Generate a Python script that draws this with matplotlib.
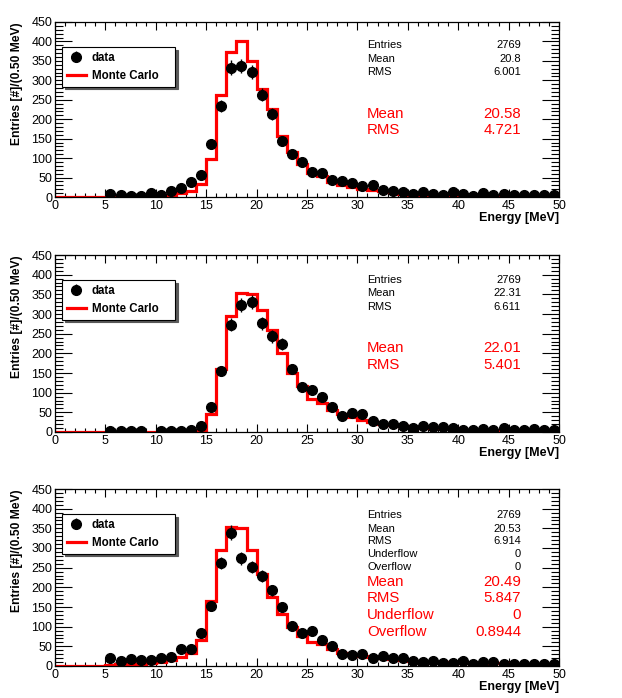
import matplotlib
matplotlib.use("Agg")
import matplotlib.pyplot as plt
import numpy as np

plt.rcParams["font.family"] = ["Liberation Sans", "DejaVu Sans"]

# bin edges (1 MeV) and data bin centres
edges = np.arange(0, 51, 1)
centres = np.arange(5.5, 50, 1.0)

# ---- panel 1 ----
data1 = [9, 6, 2, 3, 10, 6, 15, 22, 39, 56, 137, 234, 333, 336, 322, 263, 213, 143,
         110, 89, 64, 61, 44, 42, 36, 29, 31, 17, 16, 12, 8, 12, 8, 6, 12, 8, 3, 10,
         6, 8, 6, 6, 6, 6, 4]
mc1 = [0, 0, 0, 0, 0, 0, 0, 0, 0, 0, 2, 5, 10, 16, 34, 98, 263, 373, 402, 349,
       279, 226, 157, 117, 85, 61, 53, 38, 32, 27, 20, 17, 15, 12, 9, 6, 5, 5, 5, 5,
       3, 3, 3, 3, 3, 3, 3, 3, 3, 3]
stats1 = [("Entries", "2769"), ("Mean", "20.8"), ("RMS", "6.001")]
red1 = [("Mean", "20.58"), ("RMS", "4.721")]

# ---- panel 2 ----
data2 = [2, 2, 2, 2, np.nan, 2, 2, 2, 6, 15, 64, 156, 273, 323, 330, 276, 243, 223,
         160, 114, 107, 90, 64, 40, 49, 45, 28, 21, 20, 15, 9, 15, 13, 13, 10, 4, 4,
         7, 4, 9, 4, 4, 7, 6, 4]
mc2 = [0, 0, 0, 0, 0, 0, 0, 0, 0, 0, 0, 0, 0, 0, 6, 45, 159, 294, 353, 350,
       311, 260, 201, 150, 116, 83, 73, 57, 45, 37, 30, 26, 21, 17, 15, 13, 9, 9, 9, 9,
       6, 6, 6, 6, 6, 4, 4, 4, 4, 4]
stats2 = [("Entries", "2769"), ("Mean", "22.31"), ("RMS", "6.611")]
red2 = [("Mean", "22.01"), ("RMS", "5.401")]

# ---- panel 3 ----
data3 = [20, 12, 18, 14, 16, 21, 23, 43, 44, 83, 153, 262, 339, 274, 252, 228, 192,
         149, 102, 83, 89, 66, 50, 30, 29, 30, 20, 26, 21, 20, 12, 9, 13, 8, 8, 12,
         4, 10, 9, 6, 4, 6, 6, 6, 4]
mc3 = [0, 0, 0, 0, 1, 3, 4, 5, 6, 7, 10, 16, 22, 32, 65, 164, 296, 354, 350, 294,
       234, 175, 132, 100, 77, 61, 55, 42, 32, 28, 25, 22, 20, 18, 16, 13, 10, 10, 10, 10,
       7, 7, 7, 7, 7, 5, 5, 5, 5, 5]
stats3 = [("Entries", "2769"), ("Mean", "20.53"), ("RMS", "6.914"),
          ("Underflow", "0"), ("Overflow", "0")]
red3 = [("Mean", "20.49"), ("RMS", "5.847"), ("Underflow", "0"), ("Overflow", "0.8944")]

W, H = 622, 698
fig = plt.figure(figsize=(W / 100, H / 100), dpi=100)

panels = [
    (data1, mc1, stats1, red1, 22, 197, [45.5, 59, 72], [114, 130]),
    (data2, mc2, stats2, red2, 255, 432, [280, 293, 307], [348, 365]),
    (data3, mc3, stats3, red3, 489, 666, [515, 529, 541, 554, 567], [582, 598, 615, 632]),
]

for data, mc, stats, red, top, bot, sy, ry in panels:
    ax = fig.add_axes([55 / W, 1 - bot / H, 504 / W, (bot - top) / H])
    d = np.array(data, dtype=float)
    ax.stairs(mc, edges, color="#ff0000", lw=2.3, zorder=2, label="Monte Carlo")
    ax.errorbar(centres, d, yerr=np.sqrt(d), fmt="o", color="black", ms=7,
                elinewidth=1, capsize=0, zorder=3, label="data")
    ax.set_xlim(0, 50)
    ax.set_ylim(0, 450)
    ax.set_xticks(np.arange(0, 51, 5))
    ax.set_xticks(np.arange(0, 51, 1), minor=True)
    ax.set_yticks(np.arange(0, 451, 50))
    ax.set_yticks(np.arange(0, 451, 10), minor=True)
    ax.tick_params(axis="both", which="both", direction="in", top=True, right=True,
                   labelsize=9, width=0.8)
    ax.tick_params(axis="x", which="major", length=6, pad=2)
    ax.tick_params(axis="x", which="minor", length=3)
    ax.tick_params(axis="y", which="major", length=12, pad=2)
    ax.tick_params(axis="y", which="minor", length=6)
    for s in ax.spines.values():
        s.set_linewidth(0.9)
    ax.set_ylabel("Entries [#]/(0.50 MeV)", fontsize=8.7, fontweight="bold")
    ax.yaxis.set_label_coords(-0.063, 1.0, transform=ax.transAxes)
    ax.yaxis.label.set_horizontalalignment("right")
    ax.set_xlabel("Energy [MeV]", fontsize=9, fontweight="bold")
    ax.xaxis.set_label_coords(1.0, -0.083)
    ax.xaxis.label.set_horizontalalignment("right")
    ax.xaxis.label.set_verticalalignment("top")

    # legend box: 62..175 px wide, 38 px tall, 25 px below the frame top
    ph = bot - top
    lw_ax = (175 - 62) / 504
    lh_ax = 38 / ph
    x0 = (62 - 55) / 504
    y1 = 1 - 25 / ph
    h, l = ax.get_legend_handles_labels()
    leg = ax.legend(h[::-1], l[::-1], loc="upper left", mode="expand",
                    bbox_to_anchor=(x0, y1 - lh_ax, lw_ax, lh_ax),
                    prop={"weight": "bold", "size": 8.3}, frameon=True,
                    fancybox=False, edgecolor="black", borderpad=0.4,
                    handlelength=1.7, labelspacing=0.55, handletextpad=0.5,
                    borderaxespad=0, shadow={"color": "0.35", "alpha": 1})
    leg.get_frame().set_linewidth(0.8)

    for (k, v), y in zip(stats, sy):
        fig.text(367 / W, 1 - y / H, k, fontsize=8, va="center", ha="left")
        fig.text(521 / W, 1 - y / H, v, fontsize=8, va="center", ha="right")
    for (k, v), y in zip(red, ry):
        fig.text(367 / W, 1 - y / H, k, fontsize=10.8, va="center", ha="left",
                 color="#ff0000")
        fig.text(521 / W, 1 - y / H, v, fontsize=10.8, va="center", ha="right",
                 color="#ff0000")

fig.savefig("out.png", dpi=100)
